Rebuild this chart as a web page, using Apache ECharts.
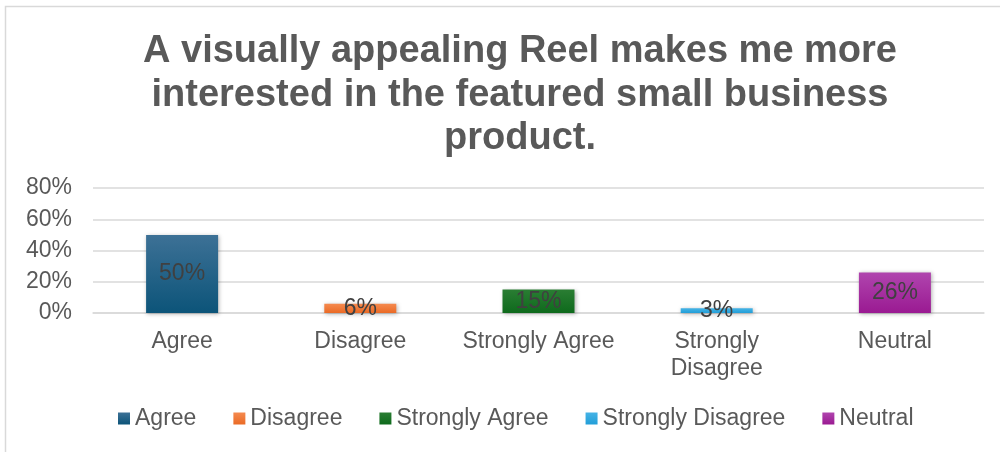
<!DOCTYPE html>
<html>
<head>
<meta charset="utf-8">
<script src="https://cdn.jsdelivr.net/npm/echarts@6/dist/echarts.min.js"></script>
<style>html,body{margin:0;padding:0;background:#fff}#c{width:1000px;height:452px}</style>
</head>
<body>
<div id="c"></div>
<script>
const titleText = 'A visually appealing Reel makes me more\ninterested in the featured small business\nproduct.';
const categories = ['Agree', 'Disagree', 'Strongly Agree', 'Strongly\nDisagree', 'Neutral'];
const seriesNames = ['Agree', 'Disagree', 'Strongly Agree', 'Strongly Disagree', 'Neutral'];
const values = [0.50, 0.06, 0.15, 0.03, 0.26];
const yTicks = [0, 0.2, 0.4, 0.6, 0.8];
const colorsTop = ['#3d7196', '#f58a4f', '#2a7d33', '#45b3e6', '#b045ae'];
const colorsBottom = ['#0c5479', '#ea6a25', '#0e6a1c', '#229ed8', '#9a1a92'];

const chart = echarts.init(document.getElementById('c'), null, {renderer: 'canvas'});
const font = 'Liberation Sans, Arial, sans-serif';

const series = seriesNames.map((name, i) => ({
  name: name,
  type: 'bar',
  stack: 'all',
  barWidth: 72,
  data: categories.map((c, j) => j === i ? values[i] : null),
  itemStyle: {
    color: new echarts.graphic.LinearGradient(0, 0, 0, 1, [
      {offset: 0, color: colorsTop[i]},
      {offset: 1, color: colorsBottom[i]}
    ]),
    shadowColor: 'rgba(0,0,0,0.3)',
    shadowBlur: 4,
    shadowOffsetX: 1,
    shadowOffsetY: 1
  },
  label: {
    show: true,
    position: 'inside',
    formatter: p => Math.round(p.value * 100) + '%',
    color: '#404040',
    fontFamily: font,
    fontSize: 23
  }
}));

chart.setOption({
  animation: false,
  backgroundColor: '#fff',
  title: {
    text: titleText,
    left: 515,
    textAlign: 'center',
    top: 25,
    textStyle: {
      fontFamily: font,
      fontWeight: 'bold',
      fontSize: 38,
      lineHeight: 43.5,
      color: '#595959'
    }
  },
  legend: {
    bottom: 17,
    left: 113,
    itemWidth: 12,
    itemHeight: 12,
    itemGap: 37,
    icon: 'rect',
    textStyle: {fontFamily: font, fontSize: 23, color: '#595959'},
    data: seriesNames
  },
  grid: {left: 93, right: 16, top: 188, bottom: 139, containLabel: false},
  xAxis: {
    type: 'category',
    data: categories,
    axisLine: {lineStyle: {color: '#d9d9d9', width: 1.5}},
    axisTick: {show: false},
    axisLabel: {fontFamily: font, fontSize: 23, color: '#595959', margin: 15, lineHeight: 27, interval: 0}
  },
  yAxis: {
    type: 'value',
    min: 0,
    max: 0.8,
    interval: 0.2,
    axisLine: {show: false},
    axisTick: {show: false},
    splitLine: {lineStyle: {color: '#d9d9d9', width: 1.5}},
    axisLabel: {
      fontFamily: font, fontSize: 23, color: '#595959', margin: 21,
      formatter: v => Math.round(v * 100) + '%'
    }
  },
  graphic: [{
    type: 'rect',
    shape: {x: 5.5, y: 6.5, width: 1000, height: 460},
    style: {fill: 'none', stroke: '#d9d9d9', lineWidth: 1.5},
    silent: true
  }],
  series: series
});
</script>
</body>
</html>
